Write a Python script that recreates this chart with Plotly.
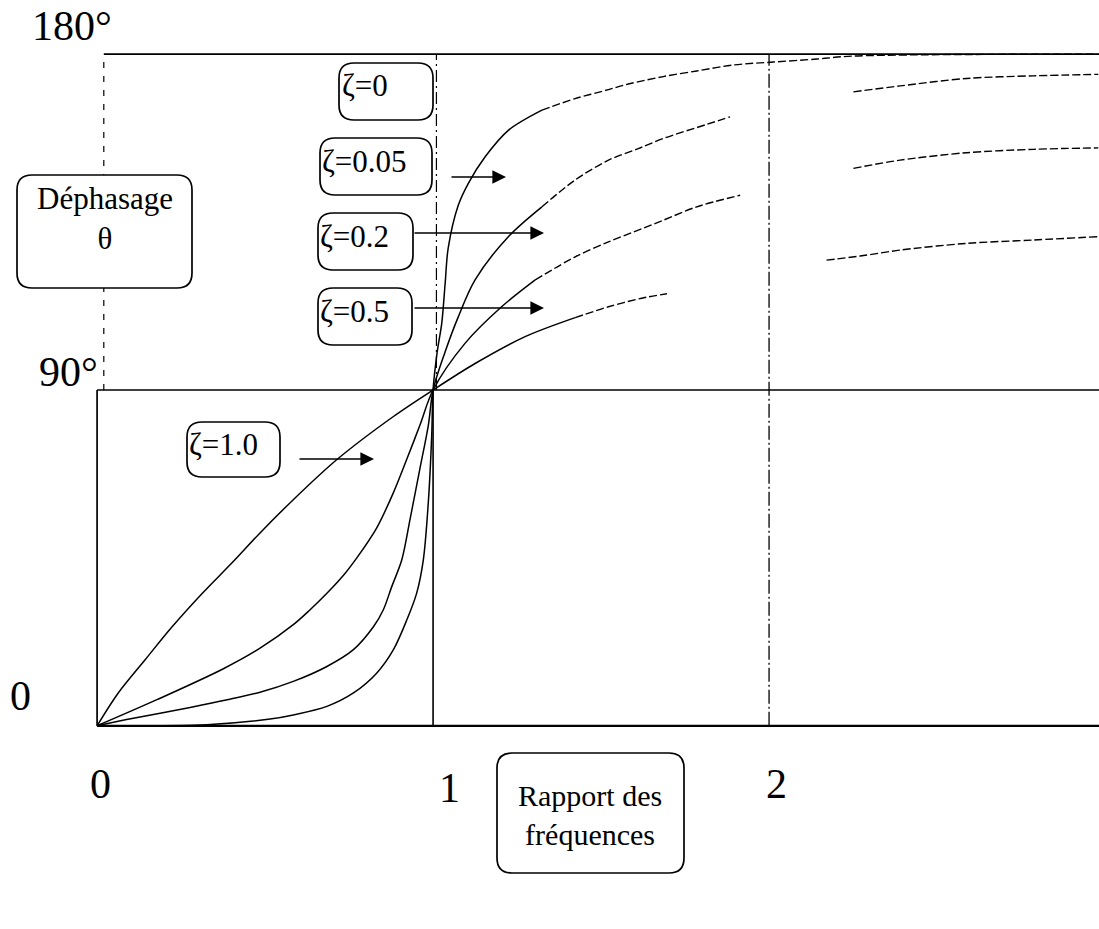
import plotly.graph_objects as go

# Frequency ratio r = w/wn and phase angle theta (degrees) for each damping ratio.
# None marks the stretch where the printed curve is missing.
r_z100 = [0, 0.063, 0.143, 0.222, 0.312, 0.406, 0.485, 0.584, 0.713, 0.882, 1.0,
          1.125, 1.274, 1.423, 1.522, 1.621, 1.696, None, 2.171, 2.271, 2.39, 2.588, 2.787, 2.98]
t_z100 = [0, 8.8, 17.7, 26.4, 35.4, 44.1, 51.7, 60.6, 71.3, 82.9, 90,
          97.1, 104.3, 109.4, 112.3, 114.6, 115.8, None, 124.8, 125.9, 127.5, 129.3, 130.2, 131.1]

r_z050 = [0, 0.178, 0.376, 0.485, 0.584, 0.634, 0.684, 0.734, 0.773, 0.832, 0.882, 0.922, 0.961, 1.0,
          1.095, 1.204, 1.304, 1.423, 1.522, 1.621, 1.685, 1.785, 1.914, None,
          2.251, 2.39, 2.588, 2.787, 2.98]
t_z050 = [0, 7.0, 15.3, 20.8, 27.1, 31.1, 35.5, 40.4, 45.0, 53.0, 62.5, 71.5, 80.6, 90,
          102.5, 112.3, 119.5, 125.7, 129.7, 133.2, 135.5, 139.1, 142.2, None,
          149.4, 151.6, 153.6, 154.5, 154.9]

r_z020 = [0, 0.108, 0.277, 0.376, 0.485, 0.584, 0.684, 0.763, 0.823, 0.852, 0.877, 0.907, 0.932, 0.961, 0.986, 1.0,
          1.035, 1.075, 1.125, 1.224, 1.324, 1.423, 1.522, 1.611, 1.685, 1.815, 1.884, None,
          2.251, 2.39, 2.588, 2.787, 2.98]
t_z020 = [0, 2.0, 4.9, 6.8, 9.0, 11.9, 15.9, 20.4, 26.6, 31.1, 37.3, 44.5, 55.6, 69.0, 80.6, 90,
          100.0, 109.6, 119.5, 131.1, 139.1, 146.3, 151.6, 154.7, 157.4, 161.2, 163.2, None,
          169.9, 171.5, 173.5, 174.2, 174.6]

r_z005 = [0, 0.326, 0.515, 0.584, 0.684, 0.763, 0.832, 0.882, 0.922, 0.951, 0.971, 0.986, 0.996, 1.0,
          1.012, 1.026, 1.036, 1.045, 1.075, 1.105, 1.155, 1.224, 1.324, 1.423, 1.522, 1.581,
          1.685, 1.785, 1.893, 2.013, 2.142, 2.25, 2.98]
t_z005 = [0, 0.3, 1.8, 2.9, 5.2, 8.8, 14.1, 20.4, 28.4, 35.5, 44.5, 60.1, 77.9, 90,
          100.0, 108.0, 118.6, 128.0, 139.5, 145.4, 152.5, 159.6, 165.0, 168.1, 170.5, 172.0,
          174.0, 175.5, 177.1, 177.9, 178.7, 179.5, 180.0]

curves = [(r_z100, t_z100), (r_z050, t_z050), (r_z020, t_z020), (r_z005, t_z005)]

zeta_labels = ["ζ=0", "ζ=0.05", "ζ=0.2", "ζ=0.5", "ζ=1.0"]
y_tick_labels = ["0", "90°", "180°"]
x_tick_labels = ["0", "1", "2"]

FONT = "Liberation Serif"
W, H = 1099, 929
X0, X1 = -0.03, 2.982
Y0, Y1 = -3.0, 183.0
ML, MR, MT, MB = 87, 0, 43, 192
PW, PH = W - ML - MR, H - MT - MB


def px_to_data(px, py):
    return (X0 + (px - ML) / PW * (X1 - X0), Y1 - (py - MT) / PH * (Y1 - Y0))


def px_to_paper(px, py):
    return ((px - ML) / PW, 1 - (py - MT) / PH)


def rounded_box(x0, y0, x1, y1, rad):
    def P(x, y):
        xp, yp = px_to_paper(x, y)
        return f"{xp:.5f},{yp:.5f}"
    path = (f"M {P(x0 + rad, y0)} L {P(x1 - rad, y0)} Q {P(x1, y0)} {P(x1, y0 + rad)} "
            f"L {P(x1, y1 - rad)} Q {P(x1, y1)} {P(x1 - rad, y1)} "
            f"L {P(x0 + rad, y1)} Q {P(x0, y1)} {P(x0, y1 - rad)} "
            f"L {P(x0, y0 + rad)} Q {P(x0, y0)} {P(x0 + rad, y0)} Z")
    return dict(type="path", path=path, xref="paper", yref="paper",
                line=dict(color="black", width=1.7), fillcolor="white", layer="above")


def split_at(rs, ts, cut):
    idx = next(i for i, v in enumerate(rs) if v is not None and v > cut)
    return (rs[:idx + 1], ts[:idx + 1]), (rs[idx:], ts[idx:])


fig = go.Figure()

# Response curves: solid near resonance, broken further out
for rs, ts in curves:
    (ra, ta), (rb, tb) = split_at(rs, ts, 1.3)
    fig.add_trace(go.Scatter(x=ra, y=ta, mode="lines",
                             line=dict(color="black", width=1.5, shape="spline", smoothing=0.9),
                             connectgaps=False, hoverinfo="skip", showlegend=False))
    fig.add_trace(go.Scatter(x=rb, y=tb, mode="lines",
                             line=dict(color="black", width=1.4, dash="8px,3px", shape="spline", smoothing=0.9),
                             connectgaps=False, hoverinfo="skip", showlegend=False))

shapes = []
# Reference grid: 0°, 90°, 180° and r = 0, 1, 2
shapes.append(dict(type="line", xref="x", yref="y", x0=0, x1=X1, y0=0, y1=0, line=dict(color="black", width=2.2)))
shapes.append(dict(type="line", xref="x", yref="y", x0=0, x1=X1, y0=90, y1=90, line=dict(color="black", width=1.6)))
shapes.append(dict(type="line", xref="x", yref="y", x0=0.02, x1=X1, y0=180, y1=180, line=dict(color="black", width=1.7)))
shapes.append(dict(type="line", xref="x", yref="y", x0=0, x1=0, y0=0, y1=90, line=dict(color="black", width=1.7)))
shapes.append(dict(type="line", xref="x", yref="y", x0=0.02, x1=0.02, y0=90, y1=180, line=dict(color="black", width=1.2, dash="6px,8px")))
shapes.append(dict(type="line", xref="x", yref="y", x0=1, x1=1, y0=0, y1=90, line=dict(color="black", width=1.6)))
shapes.append(dict(type="line", xref="x", yref="y", x0=1.01, x1=1.01, y0=90, y1=180, line=dict(color="black", width=1.2, dash="12px,4px,2px,4px")))
shapes.append(dict(type="line", xref="x", yref="y", x0=2, x1=2, y0=0, y1=180, line=dict(color="black", width=1.3, dash="14px,3px,2px,3px")))

# Label boxes (pixel extents)
boxes = [
    (17, 175, 192, 288),   # Déphasage
    (339, 63, 433, 120),   # ζ=0
    (320, 138, 432, 195),  # ζ=0.05
    (318, 213, 413, 270),  # ζ=0.2
    (318, 288, 412, 345),  # ζ=0.5
    (187, 422, 280, 477),  # ζ=1.0
    (497, 753, 684, 873),  # Rapport des fréquences
]
for b in boxes:
    shapes.append(rounded_box(*b, 15))

annotations = []


def text_at(px, py, txt, size, xanchor="center"):
    xp, yp = px_to_paper(px, py)
    annotations.append(dict(x=xp, y=yp, xref="paper", yref="paper", text=txt, showarrow=False,
                            xanchor=xanchor, yanchor="middle",
                            font=dict(family=FONT, size=size, color="black")))


# Axis value labels
text_at(20, 696, y_tick_labels[0], 42)
text_at(68, 372, y_tick_labels[1], 42)
text_at(72, 26, y_tick_labels[2], 42)
text_at(100, 784, x_tick_labels[0], 42)
text_at(449, 788, x_tick_labels[1], 42)
text_at(776, 784, x_tick_labels[2], 42)

# Box texts
text_at(105, 218, "Déphasage<br>θ", 31)
text_at(340, 86, zeta_labels[0], 31, "left")
text_at(320, 161, zeta_labels[1], 31, "left")
text_at(318, 236, zeta_labels[2], 31, "left")
text_at(318, 311, zeta_labels[3], 31, "left")
text_at(187, 444, zeta_labels[4], 31, "left")
text_at(590, 815, "Rapport des<br>fréquences", 30)

# Pointer arrows (tail px, tip px, y px)
arrows = [(450, 506, 177), (413, 544, 233), (413, 544, 308), (298, 374, 459)]
for tx, hx, y in arrows:
    hxd, yd = px_to_data(hx, y)
    txd, _ = px_to_data(tx, y)
    annotations.append(dict(x=hxd, y=yd, ax=txd, ay=yd, xref="x", yref="y", axref="x", ayref="y",
                            text="", showarrow=True, arrowhead=2, arrowsize=1.6, arrowwidth=1.7,
                            arrowcolor="black", standoff=0))

fig.update_layout(
    width=W, height=H,
    margin=dict(l=ML, r=MR, t=MT, b=MB),
    paper_bgcolor="white", plot_bgcolor="white",
    xaxis=dict(range=[X0, X1], visible=False, fixedrange=True),
    yaxis=dict(range=[Y0, Y1], visible=False, fixedrange=True),
    shapes=shapes, annotations=annotations,
    font=dict(family=FONT, color="black"),
)

fig.write_html("out.html")
